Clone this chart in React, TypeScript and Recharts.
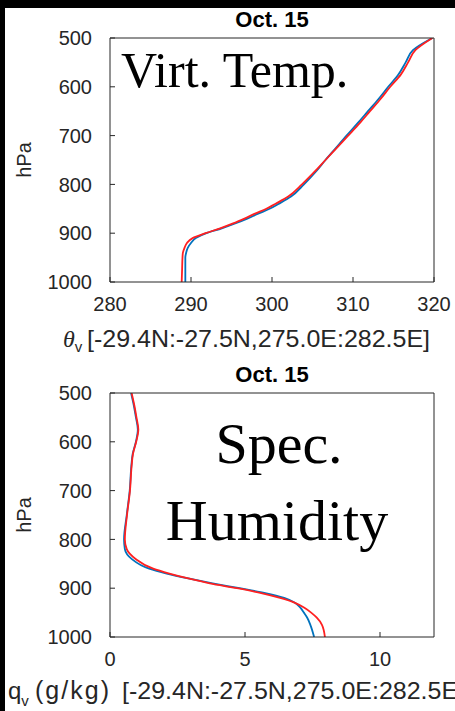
import { LineChart, Line, XAxis, YAxis } from "recharts";

// pressure levels (hPa) and profiles
const T_PRES = [500, 525, 550, 575, 600, 625, 650, 675, 700, 725, 750, 775, 800, 825, 840, 850, 860, 870, 880, 890, 900, 910, 920, 930, 940, 950, 975, 1000];
const T_BLUE = [319.8, 317.4, 316.5, 315.6, 314.35, 313.15, 311.85, 310.55, 309.2, 307.9, 306.6, 305.35, 303.95, 302.35, 300.8, 299.7, 298.3, 296.95, 295.45, 293.8, 291.9, 290.6, 290.0, 289.6, 289.4, 289.3, 289.3, 289.3];
const T_RED = [319.8, 317.7, 316.8, 315.9, 314.6, 313.4, 312.1, 310.8, 309.4, 308.0, 306.6, 305.2, 303.7, 302.0, 300.4, 299.3, 297.9, 296.6, 295.2, 293.6, 291.8, 290.2, 289.5, 289.2, 289.0, 288.95, 288.9, 288.85];

const Q_PRES = [500, 525, 550, 575, 600, 625, 650, 700, 750, 800, 820, 840, 860, 870, 880, 890, 900, 910, 920, 930, 940, 950, 960, 975, 1000];
const Q_BLUE = [0.78, 0.88, 0.96, 1.03, 0.96, 0.84, 0.79, 0.73, 0.62, 0.52, 0.55, 0.8, 1.45, 2.1, 2.9, 3.8, 4.8, 5.75, 6.45, 6.85, 7.05, 7.18, 7.3, 7.42, 7.56];
const Q_RED = [0.8, 0.9, 0.98, 1.05, 0.97, 0.85, 0.8, 0.74, 0.63, 0.55, 0.62, 0.95, 1.6, 2.2, 2.9, 3.7, 4.7, 5.6, 6.3, 6.85, 7.2, 7.45, 7.65, 7.85, 7.96];

const P_TICKS = [500, 600, 700, 800, 900, 1000];
const T_TICKS = [280, 290, 300, 310, 320];
const Q_TICKS = [0, 5, 10];

const AXIS = "#262626";
const SANS = "'Liberation Sans', Arial, Helvetica, sans-serif";
const SERIF = "'Liberation Serif', 'Times New Roman', serif";
const BLUE = "#0072BD";
const RED = "#FF2020";

const tRows = T_PRES.map((p, i) => ({ p, blue: T_BLUE[i], red: T_RED[i] }));
const qRows = Q_PRES.map((p, i) => ({ p, blue: Q_BLUE[i], red: Q_RED[i] }));

function Profile({ data, domain, ticks }: { data: any[]; domain: number[]; ticks: number[] }) {
  const tickStyle = { fontSize: 20, fill: AXIS, fontFamily: SANS };
  return (
    <LineChart layout="vertical" width={455} height={355} data={data} margin={{ top: 37, right: 20, left: 0, bottom: 0 }}>
      <XAxis xAxisId="b" type="number" orientation="bottom" domain={domain} ticks={ticks} interval={0} allowDataOverflow
        height={73} tickSize={-5} tickMargin={20} tick={tickStyle} stroke={AXIS} />
      <XAxis xAxisId="t" type="number" orientation="top" domain={domain} ticks={ticks} interval={0} allowDataOverflow
        height={1} tickSize={-5} tick={false} stroke={AXIS}
        label={{ value: "Oct. 15", position: "top", offset: 10, fill: "#000", fontSize: 22, fontWeight: "bold", fontFamily: SANS }} />
      <YAxis yAxisId="l" type="number" dataKey="p" domain={[500, 1000]} ticks={P_TICKS} interval={0} allowDataOverflow
        width={110} tickSize={-5} tickMargin={23} tick={tickStyle} stroke={AXIS}
        label={{ value: "hPa", angle: -90, position: "center", dx: -31, fill: AXIS, fontSize: 20, fontFamily: SANS }} />
      <YAxis yAxisId="r" type="number" orientation="right" dataKey="p" domain={[500, 1000]} ticks={P_TICKS} interval={0} allowDataOverflow
        width={1} tickSize={-5} tick={false} stroke={AXIS} />
      <Line xAxisId="b" yAxisId="l" dataKey="blue" type="monotone" stroke={BLUE} strokeWidth={1.8} dot={false} isAnimationActive={false} />
      <Line xAxisId="b" yAxisId="l" dataKey="red" type="monotone" stroke={RED} strokeWidth={1.8} dot={false} isAnimationActive={false} />
    </LineChart>
  );
}

export default function App() {
  return (
    <div style={{ position: "absolute", left: 0, top: 0, width: 455, height: 711, background: "#000", overflow: "hidden" }}>
      <div style={{ position: "absolute", left: 5, top: 8, right: 0, bottom: 0, background: "#fff" }} />
      <div style={{ position: "absolute", left: 0, top: 0 }}>
        <Profile data={tRows} domain={[280, 320]} ticks={T_TICKS} />
      </div>
      <div style={{ position: "absolute", left: 0, top: 355 }}>
        <Profile data={qRows} domain={[0, 12]} ticks={Q_TICKS} />
      </div>
      <svg width={455} height={711} style={{ position: "absolute", left: 0, top: 0, pointerEvents: "none" }}>
        <text x={121} y={87} fontFamily={SERIF} fontSize={50} fill="#000">Virt. Temp.</text>
        <text x={279} y={463} fontFamily={SERIF} fontSize={58} fill="#000" textAnchor="middle">Spec.</text>
        <text x={277} y={540} fontFamily={SERIF} fontSize={58} fill="#000" textAnchor="middle">Humidity</text>
        <text y={347} fontFamily={SANS} fontSize={24} fill={AXIS}>
          <tspan x={63} fontFamily={SERIF} fontStyle="italic">θ</tspan>
          <tspan fontSize={15} dy={5}>v</tspan>
          <tspan x={87} dy={-5} textLength={343} lengthAdjust="spacingAndGlyphs">[-29.4N:-27.5N,275.0E:282.5E]</tspan>
        </text>
        <text y={699} fontFamily={SANS} fontSize={24} fill={AXIS}>
          <tspan x={8}>q</tspan>
          <tspan fontSize={15} dy={7}>v</tspan>
          <tspan x={35} dy={-7} fontSize={25} textLength={74} lengthAdjust="spacing">(g/kg)</tspan>
          <tspan x={122} textLength={343} lengthAdjust="spacingAndGlyphs">[-29.4N:-27.5N,275.0E:282.5E]</tspan>
        </text>
      </svg>
    </div>
  );
}
